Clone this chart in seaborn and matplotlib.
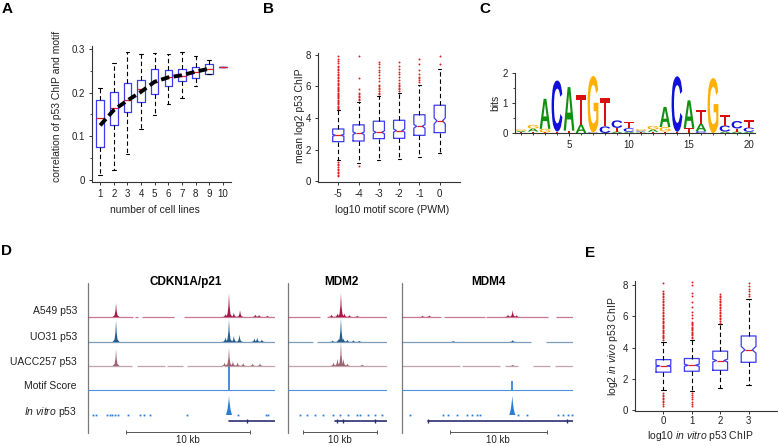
import numpy as np
import matplotlib
matplotlib.use("Agg")
import matplotlib.pyplot as plt
import seaborn as sns
from matplotlib.textpath import TextPath
from matplotlib.font_manager import FontProperties
from matplotlib.patches import PathPatch
from matplotlib.transforms import Affine2D

# ---------------- DATA ----------------

# A: correlation of p53 ChIP and motif vs number of cell lines
a_pos = [1, 2, 3, 4, 5, 6, 7, 8, 9, 10]
a_med = [0.142, 0.165, 0.184, 0.209, 0.224, 0.235, 0.238, 0.247, 0.255, 0.258]
a_q1 = [0.075, 0.125, 0.156, 0.178, 0.198, 0.216, 0.226, 0.234, 0.243, 0.258]
a_q3 = [0.184, 0.202, 0.222, 0.229, 0.255, 0.252, 0.255, 0.258, 0.265, 0.258]
a_lo = [0.012, 0.023, 0.060, 0.117, 0.148, 0.173, 0.187, 0.216, 0.243, 0.258]
a_hi = [0.210, 0.268, 0.294, 0.288, 0.291, 0.288, 0.294, 0.283, 0.275, 0.258]
a_mean_x = [1, 2, 3, 4, 5, 6, 7, 8, 9]
a_mean_y = [0.125, 0.160, 0.182, 0.202, 0.225, 0.235, 0.240, 0.248, 0.255]

# B: mean log2 p53 ChIP vs log10 motif score
b_pos = [-5, -4, -3, -2, -1, 0]
b_med = [2.90, 3.03, 3.09, 3.20, 3.47, 3.81]
b_q1 = [2.50, 2.54, 2.69, 2.71, 2.90, 3.07]
b_q3 = [3.30, 3.56, 3.79, 3.85, 4.20, 4.80]
b_lo = [1.33, 1.16, 1.33, 1.38, 1.50, 1.80]
b_hi = [4.47, 4.99, 5.40, 5.60, 6.10, 7.12]
b_cilo = [2.84, 2.95, 3.00, 3.10, 3.35, 3.62]
b_cihi = [2.96, 3.11, 3.18, 3.30, 3.58, 4.00]
b_fliers = [
    [4.55, 4.62, 4.7, 4.78, 4.85, 4.93, 5.0, 5.08, 5.15, 5.23, 5.3, 5.38, 5.45,
     5.53, 5.6, 5.68, 5.75, 5.83, 5.9, 5.98, 6.05, 6.13, 6.2, 6.3, 6.4, 6.5,
     6.6, 6.7, 6.8, 6.9, 7.0, 7.1, 7.2, 7.3, 7.45, 7.6, 7.75, 7.9,
     1.22, 1.1, 1.0, 0.9, 0.8, 0.7, 0.6, 0.5, 0.4, 0.32],
    [5.1, 5.2, 5.3, 5.4, 5.5, 5.6, 5.8, 6.5, 7.9, 0.95],
    [5.5, 5.6, 5.7, 5.8, 5.9, 6.0, 6.1, 6.3, 6.5, 6.7, 6.9, 7.0, 7.2, 7.4, 7.5],
    [5.7, 5.8, 5.9, 6.0, 6.1, 6.2, 6.4, 6.6, 6.8, 6.9, 7.1, 7.3, 7.5],
    [6.25, 6.4, 6.5, 6.6, 6.8, 7.0, 7.4, 7.7],
    [7.4, 7.9],
]

# C: p53 motif logo (bits per letter, positions 1-20)
logo_pos = list(range(1, 21))
logo_A = [0.04, 0.10, 1.00, 0.00, 1.45, 0.28, 0.00, 0.00, 0.05, 0.04,
          0.03, 0.08, 0.67, 0.00, 0.92, 0.25, 0.00, 0.05, 0.05, 0.04]
logo_C = [0.00, 0.00, 0.00, 1.70, 0.00, 0.00, 0.02, 0.22, 0.25, 0.12,
          0.03, 0.00, 0.00, 1.85, 0.00, 0.06, 0.00, 0.20, 0.25, 0.14]
logo_G = [0.05, 0.12, 0.12, 0.00, 0.00, 0.00, 1.88, 0.00, 0.00, 0.00,
          0.05, 0.12, 0.15, 0.00, 0.00, 0.00, 1.83, 0.00, 0.00, 0.00]
logo_T = [0.03, 0.05, 0.02, 0.05, 0.08, 0.97, 0.00, 0.95, 0.12, 0.20,
          0.02, 0.04, 0.05, 0.04, 0.17, 0.45, 0.00, 0.34, 0.10, 0.24]

# D: genome browser tracks (x as fraction of region, peak heights relative)
regions = ["CDKN1A/p21", "MDM2", "MDM4"]
track_names = ["A549 p53", "UO31 p53", "UACC257 p53", "Motif Score", "In vitro p53"]
a549_seg = [[(0.0, 0.24), (0.25, 0.27), (0.29, 0.46), (0.515, 1.0)],
            [(0.0, 0.323), (0.39, 1.0)],
            [(0.0, 0.23), (0.243, 0.483), (0.493, 0.853), (0.898, 1.0)]]
a549_px = [[0.15, 0.735, 0.754, 0.78, 0.813, 0.895, 0.915, 0.96],
           [0.44, 0.5, 0.535, 0.57, 0.62, 0.7],
           [0.12, 0.16, 0.62, 0.647, 0.67]]
a549_ph = [[0.58, 0.12, 1.0, 0.18, 0.28, 0.1, 0.08, 0.05],
           [0.1, 0.15, 1.0, 0.15, 0.08, 0.05],
           [0.05, 0.06, 0.1, 0.28, 0.08]]
uo31_seg = [[(0.0, 1.0)],
            [(0.0, 0.25), (0.29, 1.0)],
            [(0.0, 0.756), (0.84, 1.0)]]
uo31_px = [[0.15, 0.735, 0.754, 0.78, 0.81, 0.89, 0.905, 0.93],
           [0.45, 0.51, 0.535, 0.56, 0.6, 0.66, 0.72],
           [0.3, 0.647]]
uo31_ph = [[0.9, 0.2, 0.95, 0.25, 0.3, 0.15, 0.18, 0.1],
           [0.06, 0.12, 1.0, 0.15, 0.1, 0.07, 0.05],
           [0.04, 0.08]]
uacc_seg = [[(0.0, 0.235), (0.26, 0.41), (0.42, 0.51), (0.53, 0.72), (0.725, 1.0)],
            [(0.0, 1.0)],
            [(0.0, 0.338), (0.348, 0.572), (0.6, 0.678), (0.767, 0.864), (0.894, 1.0)]]
uacc_px = [[0.15, 0.73, 0.754, 0.775, 0.8, 0.83, 0.88, 0.92],
           [0.46, 0.5, 0.535, 0.56, 0.6, 0.75],
           [0.647]]
uacc_ph = [[0.7, 0.15, 0.75, 0.2, 0.15, 0.12, 0.1, 0.1],
           [0.15, 0.3, 1.0, 0.3, 0.1, 0.06],
           [0.05]]
motif_px = [[0.754], [], [0.643]]
motif_ph = [[1.0], [], [0.38]]
vitro_px = [[0.754], [], [0.645]]
vitro_ph = [[0.8], [], [0.8]]
vitro_dots = [[0.027, 0.045, 0.1, 0.115, 0.13, 0.145, 0.16, 0.214, 0.277, 0.3, 0.33,
               0.527, 0.8, 0.95, 0.962],
              [0.121, 0.189, 0.273, 0.357, 0.451, 0.525, 0.609, 0.694, 0.727, 0.811,
               0.879, 0.946],
              [0.047, 0.242, 0.271, 0.32, 0.378, 0.407, 0.437, 0.456, 0.68, 0.729,
               0.914, 0.944, 0.973, 0.992]]
gene_span = [(0.756, 1.0), (0.475, 1.0), (0.154, 1.0)]
gene_marks = [[0.852], [0.49, 0.556, 0.875], [0.154, 0.967]]
scale_span = [(0.203, 0.866), (0.155, 0.896), (0.281, 0.846)]

# E: log2 in vivo p53 ChIP vs log10 in vitro p53 ChIP
e_pos = [0, 1, 2, 3]
e_med = [2.83, 2.87, 3.17, 3.85]
e_q1 = [2.43, 2.49, 2.55, 3.06]
e_q3 = [3.23, 3.30, 3.77, 4.74]
e_lo = [1.26, 1.21, 1.43, 1.64]
e_hi = [4.38, 4.51, 5.49, 7.09]
e_cilo = [2.78, 2.80, 3.08, 3.65]
e_cihi = [2.88, 2.94, 3.26, 4.08]
e_fliers = [
    [4.5, 4.58, 4.66, 4.74, 4.82, 4.9, 4.98, 5.06, 5.14, 5.22, 5.3, 5.38, 5.46,
     5.54, 5.62, 5.7, 5.8, 5.9, 6.0, 6.1, 6.2, 6.3, 6.4, 6.5, 6.6, 6.7, 6.8,
     6.9, 7.0, 7.1, 7.2, 7.3, 7.4, 7.5, 7.6, 8.1,
     1.1, 1.0, 0.9, 0.8, 0.7, 0.6, 0.5, 0.4, 0.3],
    [4.62, 4.7, 4.78, 4.86, 4.94, 5.02, 5.1, 5.18, 5.26, 5.34, 5.42, 5.5, 5.58,
     5.66, 5.9, 6.1, 6.3, 6.6, 6.9, 7.3, 7.5, 8.0, 8.2,
     1.1, 1.0, 0.85, 0.7, 0.55, 0.4, 0.3],
    [5.6, 5.7, 5.8, 5.9, 6.0, 6.1, 6.2, 6.3, 6.4, 6.5, 6.6, 6.7, 6.8, 6.9, 7.0,
     7.1, 7.2, 7.3, 7.4],
    [7.3, 7.45, 7.6, 7.75, 7.9, 8.1],
]

# ---------------- STYLE ----------------
sns.set_style("ticks")
plt.rcParams["font.family"] = ["Liberation Sans", "DejaVu Sans"]
plt.rcParams["mathtext.fontset"] = "custom"
plt.rcParams["mathtext.rm"] = "Liberation Sans"
plt.rcParams["mathtext.it"] = "Liberation Sans:italic"
plt.rcParams["axes.unicode_minus"] = False

W, H = 778, 446
TXT = "#222222"
BOXC = "#3b3bf2"
RED = "#e02020"

fig = plt.figure(figsize=(W / 100, H / 100), dpi=100)


def rect(l, t, r, b):
    return [l / W, 1 - b / H, (r - l) / W, (b - t) / H]


def ftext(x, y, s, **kw):
    fig.text(x / W, 1 - y / H, s, **kw)


def style_axes(ax):
    sns.despine(ax=ax)
    for sp in ["left", "bottom"]:
        ax.spines[sp].set_color("#333333")
        ax.spines[sp].set_linewidth(0.8)
    ax.tick_params(direction="out", length=2, width=0.7, labelsize=7,
                   colors="#333333", labelcolor=TXT, pad=3)


def make_stats(med, q1, q3, lo, hi, fliers=None, cilo=None, cihi=None):
    stats = []
    for i in range(len(med)):
        d = dict(med=med[i], q1=q1[i], q3=q3[i], whislo=lo[i], whishi=hi[i],
                 fliers=fliers[i] if fliers else [])
        if cilo:
            d["cilo"] = cilo[i]
            d["cihi"] = cihi[i]
        stats.append(d)
    return stats


box_kw = dict(
    boxprops=dict(color=BOXC, lw=0.9),
    medianprops=dict(color=RED, lw=0.9, zorder=3),
    whiskerprops=dict(color="black", lw=0.8, linestyle=(0, (4, 2.5))),
    capprops=dict(color="black", lw=0.8),
    flierprops=dict(marker="o", markersize=1.4, markerfacecolor=RED,
                    markeredgecolor="none"),
    manage_ticks=False,
)

# ---------------- PANEL A ----------------
axA = fig.add_axes(rect(92, 46, 231, 182))
axA.bxp(make_stats(a_med, a_q1, a_q3, a_lo, a_hi), positions=a_pos,
        widths=0.55, capwidths=0.25, showfliers=False, **box_kw)
sns.lineplot(x=a_mean_x, y=a_mean_y, ax=axA, color="black", lw=2.8,
             linestyle=(0, (2.2, 1.1)), zorder=4)
axA.set_xlim(0.4, 10.6)
axA.set_ylim(-0.005, 0.307)
axA.set_xticks(a_pos)
axA.set_yticks([0, 0.1, 0.2, 0.3])
axA.set_yticklabels(["0", "0.1", "0.2", "0.3"])
axA.set_yticks([0.05, 0.15, 0.25], minor=True)
style_axes(axA)
axA.tick_params(which="minor", direction="out", length=1.5, width=0.6)
ftext(57, 106, "correlation of p53 ChIP and motif", rotation=90,
      ha="center", va="center", fontsize=7.5, color=TXT)
ftext(155, 210, "number of cell lines", ha="center", va="center",
      fontsize=7.5, color=TXT)

# ---------------- PANEL B ----------------
axB = fig.add_axes(rect(318, 53, 460, 182))
axB.bxp(make_stats(b_med, b_q1, b_q3, b_lo, b_hi, b_fliers, b_cilo, b_cihi),
        positions=b_pos, widths=0.55, capwidths=0.16, shownotches=True,
        showfliers=True, **box_kw)
axB.set_xlim(-6, 1)
axB.set_ylim(-0.05, 8.1)
axB.set_xticks(b_pos)
axB.set_xticklabels([str(p) for p in b_pos])
axB.set_yticks([0, 2, 4, 6, 8])
style_axes(axB)
ftext(300, 116, "mean log2 p53 ChIP", rotation=90, ha="center",
      va="center", fontsize=7.5, color=TXT)
ftext(392, 210, "log10 motif score (PWM)", ha="center", va="center",
      fontsize=7.5, color=TXT)

# ---------------- PANEL C ----------------
axC = fig.add_axes(rect(515, 73, 755, 133))
logo_colors = {"A": "#109010", "C": "#1010d8", "G": "#ffb000", "T": "#d81010"}
logo_fp = FontProperties(family="Liberation Sans", weight="bold")


def draw_letter(ax, ch, x, y0, h):
    tp = TextPath((0, 0), ch, size=1, prop=logo_fp)
    bb = tp.get_extents()
    tr = (Affine2D().translate(-bb.x0, -bb.y0)
          .scale(0.9 / bb.width, h / bb.height).translate(x - 0.45, y0))
    ax.add_patch(PathPatch(tr.transform_path(tp), fc=logo_colors[ch], ec="none"))


for i, p in enumerate(logo_pos):
    col = [("A", logo_A[i]), ("C", logo_C[i]), ("G", logo_G[i]), ("T", logo_T[i])]
    col = sorted([c for c in col if c[1] > 0], key=lambda c: c[1])
    y0 = 0
    for ch, h in col:
        draw_letter(axC, ch, p, y0, h)
        y0 += h
axC.set_xlim(0.5, 20.5)
axC.set_ylim(0, 2)
axC.set_xticks([5, 10, 15, 20])
axC.set_xticks(logo_pos, minor=True)
axC.set_yticks([0, 1, 2])
axC.set_yticks([0.5, 1.5], minor=True)
style_axes(axC)
axC.tick_params(which="minor", direction="out", length=1.5, width=0.6)
ftext(495, 103, "bits", rotation=90, ha="center", va="center",
      fontsize=7.5, color=TXT)

# ---------------- PANEL D ----------------
region_px = [(88, 275), (288, 387), (402, 573)]
title_x = [0.524, 0.535, 0.503]
base_y = [317, 342, 366, 390, 415]
gene_y, scale_y, scale_lbl_y = 421, 432, 440
TH = 24
c_a549, c_uo31, c_uacc = "#a51c4c", "#275d8c", "#9c6672"
c_motif, c_vitro, c_gene = "#4b90dc", "#2b7ed8", "#2a2f70"

spike_dx = [-3.5, -1.5, -0.6, 0, 0.6, 1.5, 3.5]
spike_dy = [0, 0.12, 0.45, 1, 0.45, 0.12, 0]
tri_dx = [-3, -1.5, -0.5, 0, 0.5, 1.5, 3]
tri_dy = [0, 0.3, 0.7, 1, 0.7, 0.3, 0]


def draw_peaks(ax, xs, hs, y0, color, rw, dx, dy):
    for x, h in zip(xs, hs):
        px = [x + d / rw for d in dx]
        py = [y0 - h * TH * f for f in dy]
        ax.fill(px, py, color=color, lw=0)


for r in range(3):
    l, rr = region_px[r]
    rw = rr - l
    ax = fig.add_axes(rect(l, 278, rr, 446))
    ax.set_xlim(0, 1)
    ax.set_ylim(446, 278)
    ax.axis("off")
    ax.plot([0, 0], [283, 433], color="#7a7a7a", lw=0.9, clip_on=False)
    ax.text(title_x[r], 282, regions[r], ha="center", va="center",
            fontsize=8.5, fontweight="bold", color="black")
    for segs, xs, hs, y0, c in [(a549_seg[r], a549_px[r], a549_ph[r], base_y[0], c_a549),
                                (uo31_seg[r], uo31_px[r], uo31_ph[r], base_y[1], c_uo31),
                                (uacc_seg[r], uacc_px[r], uacc_ph[r], base_y[2], c_uacc)]:
        for s0, s1 in segs:
            ax.plot([s0, s1], [y0, y0], color=c, lw=0.9, alpha=0.6,
                    solid_capstyle="butt")
        draw_peaks(ax, xs, hs, y0, c, rw, spike_dx, spike_dy)
    # motif score
    ax.plot([0, 1], [base_y[3], base_y[3]], color=c_motif, lw=0.8)
    if motif_px[r]:
        ax.bar(motif_px[r], [-h * TH for h in motif_ph[r]], bottom=base_y[3],
               width=2.2 / rw, color=c_motif, lw=0)
    # in vitro
    draw_peaks(ax, vitro_px[r], vitro_ph[r], base_y[4], c_vitro, rw, tri_dx, tri_dy)
    ax.plot(vitro_dots[r], [base_y[4]] * len(vitro_dots[r]), ls="none",
            marker="s", ms=1.3, mfc=c_vitro, mec="none")
    # gene model
    ax.plot(gene_span[r], [gene_y, gene_y], color=c_gene, lw=1.2)
    ax.plot(gene_marks[r], [gene_y] * len(gene_marks[r]), ls="none",
            marker="|", ms=3.5, mew=1.0, color=c_gene)
    # scale bar
    ax.plot(scale_span[r], [scale_y, scale_y], color="#555555", lw=0.7)
    ax.plot(scale_span[r], [scale_y, scale_y], ls="none", marker="|",
            ms=3, mew=0.7, color="#555555")
    ax.text(sum(scale_span[r]) / 2, scale_lbl_y, "10 kb", ha="center",
            va="center", fontsize=7, color=TXT)

label_y = [311, 337, 362, 386, 412]
for name, y in zip(track_names[:4], label_y[:4]):
    ftext(77, y, name, ha="right", va="center", fontsize=7.5, color=TXT)
ftext(77, label_y[4], r"$\mathit{In\ vitro}$ p53", ha="right", va="center",
      fontsize=7.5, color=TXT)

# ---------------- PANEL E ----------------
axE = fig.add_axes(rect(635, 281, 777, 411))
axE.bxp(make_stats(e_med, e_q1, e_q3, e_lo, e_hi, e_fliers, e_cilo, e_cihi),
        positions=e_pos, widths=0.52, capwidths=0.16, shownotches=True,
        showfliers=True, **box_kw)
axE.set_xlim(-1, 4)
axE.set_ylim(-0.05, 8.25)
axE.set_xticks(e_pos)
axE.set_yticks([0, 2, 4, 6, 8])
style_axes(axE)
axE.tick_params(axis="x", pad=1.5)
ftext(613, 346, r"log2 $\mathit{in\ vivo}$ p53 ChIP", rotation=90,
      ha="center", va="center", fontsize=7.5, color=TXT)
ftext(700, 436, r"log10 $\mathit{in\ vitro}$ p53 ChIP", ha="center",
      va="center", fontsize=7.5, color=TXT)

# ---------------- PANEL LETTERS ----------------
for s, x, y in [("A", 7, 9), ("B", 268, 9), ("C", 485, 9), ("D", 7, 251), ("E", 590, 253)]:
    ftext(x, y, s, ha="center", va="center", fontsize=11, fontweight="bold",
          color="black")

fig.savefig("out.png", dpi=100)
